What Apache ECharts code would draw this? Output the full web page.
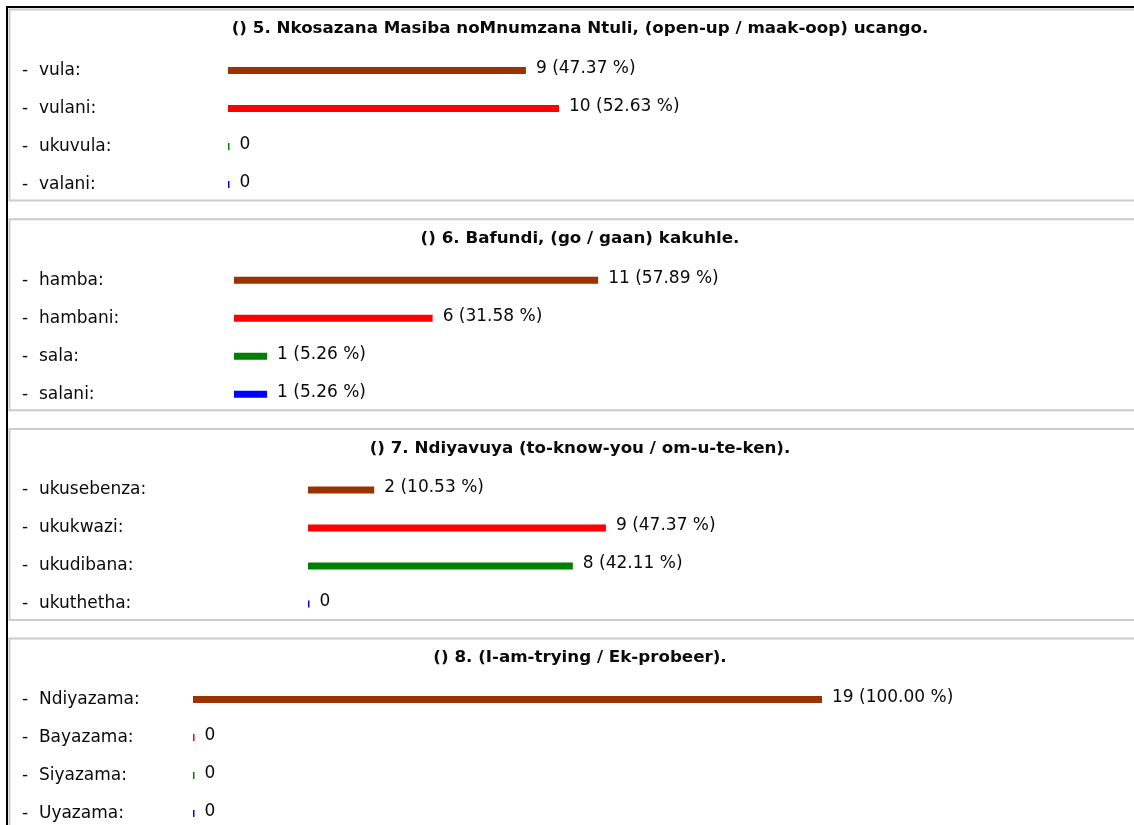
<!DOCTYPE html>
<html>
<head>
<meta charset="utf-8">
<script src="https://cdn.jsdelivr.net/npm/echarts@6/dist/echarts.min.js"></script>
<style>
html,body{margin:0;padding:0;background:#fff;overflow:hidden;width:1134px;height:825px;}
#chart{width:1134px;height:860px;}
</style>
</head>
<body>
<div id="chart"></div>
<script>
// ---- data ----
const titles = [
  "() 5. Nkosazana Masiba noMnumzana Ntuli, (open-up / maak-oop) ucango.",
  "() 6. Bafundi, (go / gaan) kakuhle.",
  "() 7. Ndiyavuya (to-know-you / om-u-te-ken).",
  "() 8. (I-am-trying / Ek-probeer)."
];
const cats1 = ["vula", "vulani", "ukuvula", "valani"];
const cats2 = ["hamba", "hambani", "sala", "salani"];
const cats3 = ["ukusebenza", "ukukwazi", "ukudibana", "ukuthetha"];
const cats4 = ["Ndiyazama", "Bayazama", "Siyazama", "Uyazama"];
const counts1 = [9, 10, 0, 0];
const counts2 = [11, 6, 1, 1];
const counts3 = [2, 9, 8, 0];
const counts4 = [19, 0, 0, 0];
const pct1 = ["47.37", "52.63", "", ""];
const pct2 = ["57.89", "31.58", "5.26", "5.26"];
const pct3 = ["10.53", "47.37", "42.11", ""];
const pct4 = ["100.00", "", "", ""];
const barColors = ["#993300", "#ff0000", "#008000", "#0000ff"];
const axisMax = 19;

const cats = [cats1, cats2, cats3, cats4];
const counts = [counts1, counts2, counts3, counts4];
const pcts = [pct1, pct2, pct3, pct4];

// ---- layout ----
const FONT = "DejaVu Sans";
const panelStep = 209.7;
const gridLefts = [228, 234, 308, 193];
const labelX = 22;

const grids = [], xAxes = [], yAxes = [], series = [], graphics = [];

// outer frame
graphics.push({type:'rect', shape:{x:6, y:6, width:1128, height:2}, style:{fill:'#000'}, z:10});
graphics.push({type:'rect', shape:{x:6, y:6, width:2, height:850}, style:{fill:'#000'}, z:10});

for (let p = 0; p < 4; p++) {
  const top = 51.5 + p * panelStep;
  grids.push({left: gridLefts[p], top: top, width: 629, height: 152});
  xAxes.push({type:'value', gridIndex:p, min:0, max:axisMax, show:false});
  yAxes.push({
    type:'category', gridIndex:p, inverse:true,
    data: cats[p].map(c => "-  " + c + ":"),
    axisLine:{show:false}, axisTick:{show:false}, splitLine:{show:false},
    axisLabel:{
      align:'left', margin: gridLefts[p] - labelX,
      color:'#0a0a0a', fontFamily:FONT, fontSize:17, padding:[0,0,4,0]
    }
  });
  const pc = pcts[p];
  series.push({
    type:'bar', xAxisIndex:p, yAxisIndex:p,
    barWidth:7, barMinHeight:1.5, silent:true, animation:false,
    data: counts[p].map((v, i) => ({value:v, itemStyle:{color:barColors[i]}})),
    label:{
      show:true, position:'right', distance:10, offset:[0,-2],
      color:'#0a0a0a', fontFamily:FONT, fontSize:17,
      formatter: (prm) => prm.value > 0 ? prm.value + " (" + pc[prm.dataIndex] + " %)" : "0"
    }
  });
  // panel border
  const py = 9.5 + p * panelStep;
  graphics.push({type:'rect', shape:{x:9.5, y:py, width:1200, height:191},
    style:{fill:null, stroke:'#cccccc', lineWidth:2}, z:5});
  graphics.push({type:'text', x:580, y:29 + p * panelStep,
    style:{text:titles[p], fill:'#0a0a0a', font:'bold 16.7px "' + FONT + '"',
      textAlign:'center', textVerticalAlign:'middle'}, z:6});
}

const chart = echarts.init(document.getElementById('chart'));
chart.setOption({
  animation:false,
  backgroundColor:'#fff',
  grid:grids, xAxis:xAxes, yAxis:yAxes, series:series,
  graphic:{elements:graphics}
});
</script>
</body>
</html>
